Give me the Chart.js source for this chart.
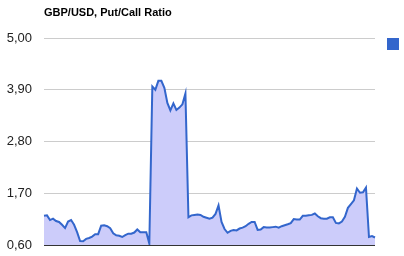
<!DOCTYPE html>
<html>
<head>
<meta charset="utf-8">
<script src="https://cdn.jsdelivr.net/npm/chart.js@4"></script>
<style>
html,body{margin:0;padding:0;background:#fff;}
#wrap{position:relative;width:404px;height:256px;}
</style>
</head>
<body>
<div id="wrap"><canvas id="c" width="404" height="256"></canvas></div>
<script>
const chartTitle = "GBP/USD, Put/Call Ratio";
const seriesName = "Put/Call Ratio";
const putCallRatio = [
  1.22, 1.23, 1.13, 1.16, 1.11, 1.09, 1.03, 0.96, 1.10, 1.13,
  1.03, 0.875, 0.685, 0.68, 0.73, 0.75, 0.78, 0.83, 0.83, 1.01,
  1.02, 1.00, 0.955, 0.85, 0.805, 0.795, 0.77, 0.81, 0.84, 0.84,
  0.865, 0.93, 0.87, 0.87, 0.87, 0.63, 3.97, 3.90, 4.09, 4.09,
  3.94, 3.62, 3.46, 3.61, 3.47, 3.52, 3.59, 3.82, 1.19, 1.23,
  1.24, 1.25, 1.24, 1.20, 1.18, 1.16, 1.18, 1.26, 1.44, 1.09,
  0.94, 0.86, 0.90, 0.92, 0.91, 0.95, 0.97, 1.00, 1.05, 1.09,
  1.09, 0.92, 0.93, 0.98, 0.97, 0.97, 0.98, 0.99, 0.97, 1.00,
  1.02, 1.04, 1.065, 1.15, 1.14, 1.14, 1.22, 1.22, 1.23, 1.24,
  1.27, 1.21, 1.17, 1.16, 1.16, 1.19, 1.19, 1.07, 1.06, 1.10,
  1.20, 1.39, 1.47, 1.55, 1.80, 1.71, 1.72, 1.82, 0.77, 0.79,
  0.76
];
const categories = putCallRatio.map((_, i) => String(i + 1));
const yTicks = [0.60, 1.70, 2.80, 3.90, 5.00];

const titlePlugin = {
  id: 'leftTitle',
  afterDraw(chart) {
    const ctx = chart.ctx, a = chart.chartArea;
    ctx.save();
    ctx.font = 'bold 11px "Liberation Sans", Arial, sans-serif';
    ctx.fillStyle = '#000';
    ctx.textBaseline = 'middle';
    ctx.textAlign = 'left';
    ctx.fillText(chartTitle, a.left, 13);
    // legend marker (no label text in reference)
    ctx.fillStyle = chart.data.datasets[0].borderColor;
    ctx.fillRect(a.right + 12, a.top, 12, 12);
    ctx.restore();
  }
};

new Chart(document.getElementById('c'), {
  type: 'line',
  data: {
    labels: categories,
    datasets: [{
      label: seriesName,
      data: putCallRatio,
      borderColor: '#3366cc',
      backgroundColor: '#ccccfa',
      borderWidth: 2,
      pointRadius: 0,
      tension: 0,
      fill: 'start'
    }]
  },
  options: {
    responsive: false,
    animation: false,
    devicePixelRatio: 1,
    layout: { padding: { top: 38, bottom: 11, right: 29, left: 0 } },
    plugins: { legend: { display: false }, title: { display: false }, tooltip: { enabled: false } },
    scales: {
      x: { display: false },
      y: {
        min: 0.6, max: 5.0,
        afterBuildTicks(s) { s.ticks = yTicks.map(v => ({ value: v })); },
        afterFit(s) { s.width = 44; s.paddingTop = 0; s.paddingBottom = 0; },
        border: { display: false },
        grid: {
          drawTicks: false,
          color: ctx => (ctx.tick && Math.abs(ctx.tick.value - 0.6) < 1e-6) ? '#333333' : '#cccccc',
          lineWidth: 1
        },
        ticks: {
          padding: 12,
          color: '#222222',
          font: { family: '"Liberation Sans", Arial, sans-serif', size: 13 },
          callback: v => Number(v).toFixed(2).replace('.', ',')
        }
      }
    }
  },
  plugins: [titlePlugin]
});
</script>
</body>
</html>
